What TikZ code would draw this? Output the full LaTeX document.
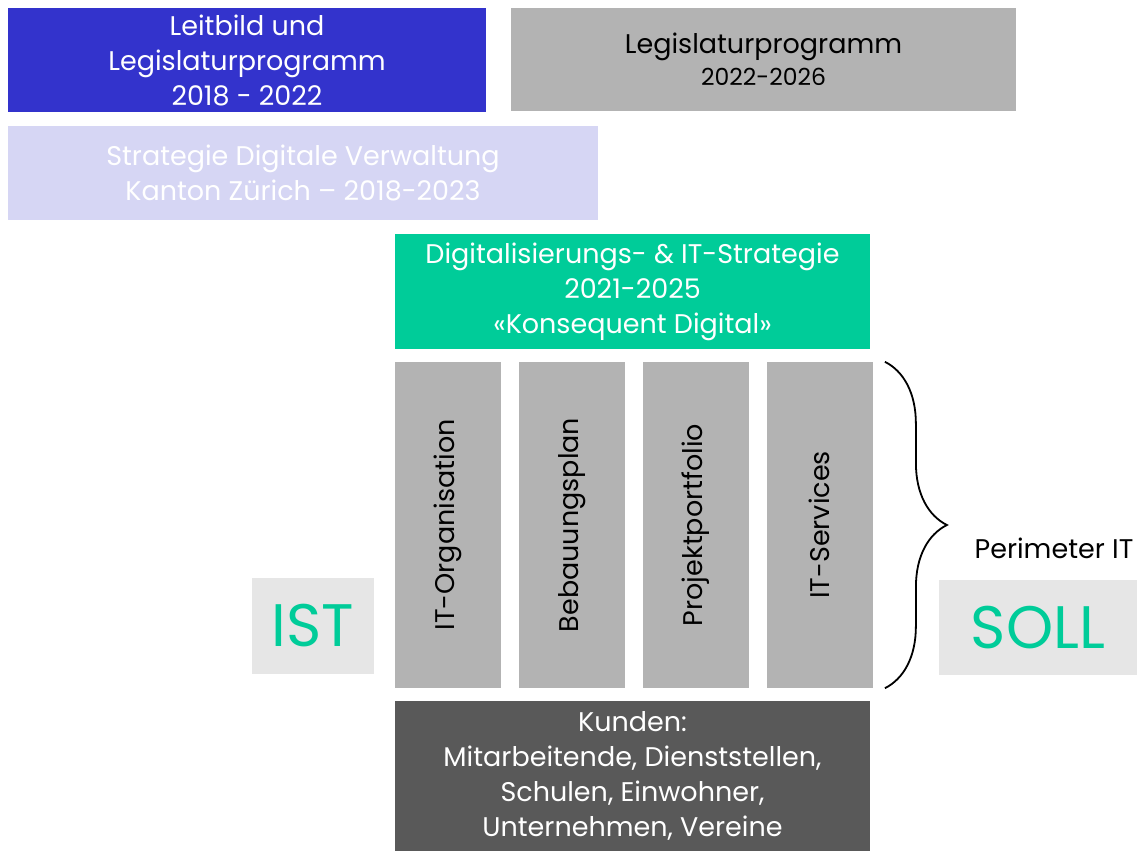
\documentclass[tikz,border=0pt]{standalone}
\usepackage{fontspec}
\setmainfont{Poppins}
\usepackage{tikz}
\usetikzlibrary{positioning, decorations.pathreplacing}

\definecolor{kzblue}{HTML}{3333CC}
\definecolor{kzlavender}{HTML}{D6D6F4}
\definecolor{kzgreen}{HTML}{00CC99}
\definecolor{kzgray}{HTML}{B3B3B3}
\definecolor{kzdark}{HTML}{595959}
\definecolor{kzlight}{HTML}{E6E6E6}

\begin{document}
\begin{tikzpicture}[
    x=1pt, y=-1pt,
    box/.style={
      rectangle, inner sep=0pt,
      text centered, align=center,
      font=\fontsize{27}{35}\selectfont
    },
    colbox/.style={
      box, fill=kzgray,
      minimum width=106pt, minimum height=326pt
    },
    tagbox/.style={
      rectangle, inner sep=0pt, fill=kzlight, text=kzgreen,
      font=\fontsize{60}{70}\selectfont
    },
    node distance=17.5pt
  ]
  \useasboundingbox (0,0) rectangle (1137,852);

  \node[box, fill=kzblue, text=white, minimum width=478pt, minimum height=104pt]
        (leit) at (247,60) {Leitbild und\\Legislaturprogramm\\2018 - 2022};
  \node[box, fill=kzgray, minimum width=505pt, minimum height=103pt]
        (legis) at (763.5,59.5)
        {Legislaturprogramm\\[-3pt]{\fontsize{23.5}{28}\selectfont 2022-2026}};
  \node[box, fill=kzlavender, text=white, minimum width=590pt, minimum height=94pt]
        (strat) at (303,173)
        {Strategie Digitale Verwaltung\\Kanton Zürich – 2018-2023};
  \node[box, fill=kzgreen, text=white, minimum width=475pt, minimum height=115pt]
        (digi) at (632.5,291.5)
        {Digitalisierungs- \& IT-Strategie\\2021-2025\\«Konsequent Digital»};

  \node[colbox] (orga) at (448,525) {\rotatebox{90}{IT-Organisation}};
  \node[colbox, right=of orga] (bebau) {\rotatebox{90}{Bebauungsplan}};
  \node[colbox, right=of bebau] (proj) {\rotatebox{90}{Projektportfolio}};
  \node[colbox, right=of proj] (serv) {\rotatebox{90}{IT-Services}};

  \node[box, fill=kzdark, text=white, minimum width=475pt, minimum height=150pt]
        (kunden) at (632.5,776)
        {Kunden:\\Mitarbeitende, Dienststellen,\\Schulen, Einwohner,\\Unternehmen, Vereine};

  \node[tagbox, minimum width=122pt, minimum height=96pt] (ist) at (313,626) {IST};
  \node[tagbox, minimum width=198pt, minimum height=95pt] (soll) at (1038,627.5) {SOLL};

  % Klammer um die vier Saeulen
  \draw[decorate, decoration={brace, amplitude=62pt}, line width=1.8pt]
    ([xshift=12pt]serv.north east) -- ([xshift=12pt]serv.south east);
  \node[font=\fontsize{27}{32}\selectfont] (peri) at (1054,548) {Perimeter IT};

\end{tikzpicture}
\end{document}
